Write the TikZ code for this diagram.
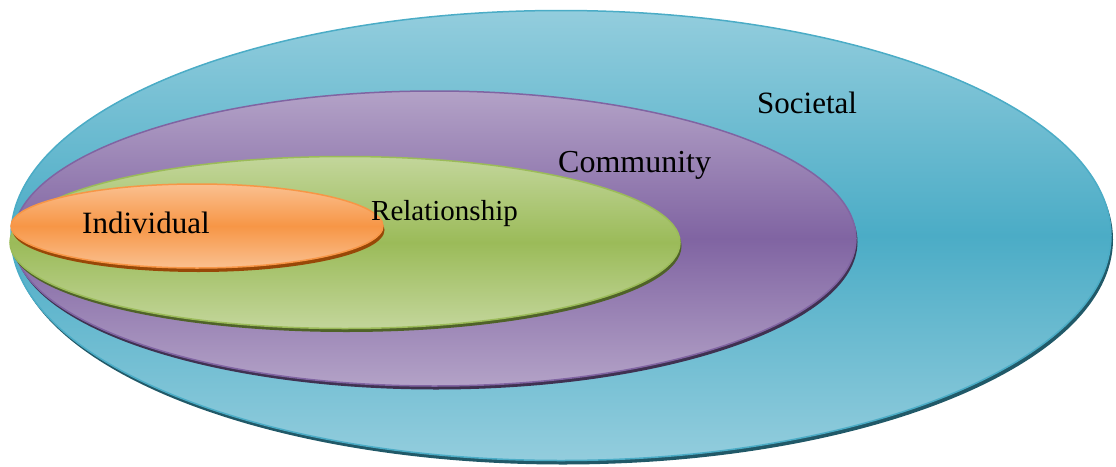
\documentclass[tikz,border=0pt]{standalone}
\usepackage{fontspec}
\setmainfont{Liberation Serif}
\definecolor{socLight}{HTML}{93CDDD}
\definecolor{socDark}{HTML}{4BACC6}
\definecolor{socShadow}{HTML}{215968}
\definecolor{comLight}{HTML}{B3A2C7}
\definecolor{comDark}{HTML}{8064A2}
\definecolor{comShadow}{HTML}{3F3151}
\definecolor{relLight}{HTML}{C3D69B}
\definecolor{relDark}{HTML}{9BBB59}
\definecolor{relShadow}{HTML}{4F6228}
\definecolor{indLight}{HTML}{FAC090}
\definecolor{indDark}{HTML}{F79646}
\definecolor{indShadow}{HTML}{984807}
\begin{document}
\begin{tikzpicture}[x=1pt, y=-1pt,
  ring/.style 2 args = {draw=#2, line width=1.5pt, top color=#1, bottom color=#1, middle color=#2},
  drop/.style = {fill=#1},
  tag/.style = {anchor=base west, inner sep=0pt, font=\fontsize{31}{36}\selectfont}]
\useasboundingbox (0,0) rectangle (1116,466);

% Societal
\fill[drop=socShadow] (563,239.5) ellipse [x radius=550, y radius=225];
\draw[ring={socLight}{socDark}] (561,235.5) ellipse [x radius=550, y radius=225];

% Community
\fill[drop=comShadow] (436,242) ellipse [x radius=421.5, y radius=147.5];
\draw[ring={comLight}{comDark}] (434.5,238.5) ellipse [x radius=421.5, y radius=147.5];

% Relationship
\fill[drop=relShadow] (346.5,246) ellipse [x radius=335, y radius=86];
\draw[ring={relLight}{relDark}] (345,242.5) ellipse [x radius=335, y radius=86];

% Individual
\fill[drop=indShadow] (198.5,230) ellipse [x radius=186, y radius=42];
\draw[ring={indLight}{indDark}] (197,226) ellipse [x radius=186, y radius=42];

\node[tag] (soc) at (757,113) {Societal};
\node[tag, font=\fontsize{32}{37}\selectfont] (com) at (558,172) {Community};
\node[tag, font=\fontsize{29}{34}\selectfont] (rel) at (371,220) {Relationship};
\node[tag] (ind) at (82,233) {Individual};
\end{tikzpicture}
\end{document}
